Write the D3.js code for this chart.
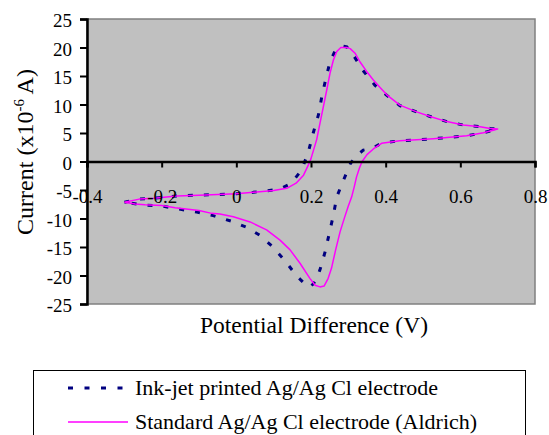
<!DOCTYPE html>
<html>
<head>
<meta charset="utf-8">
<script src="https://cdn.jsdelivr.net/npm/d3@7"></script>
<style>
  html, body { margin: 0; padding: 0; background: #ffffff; }
  svg { display: block; }
  text { font-family: "Liberation Serif", "Times New Roman", serif; fill: #000; }
</style>
</head>
<body>
<div id="chart"></div>
<script>
// ---- Data ----
const xTicks = [-0.4, -0.2, 0, 0.2, 0.4, 0.6, 0.8];
const xTickLabels = ["-0.4", "-0.2", "0", "0.2", "0.4", "0.6", "0.8"];
const yTicks = [-25, -20, -15, -10, -5, 0, 5, 10, 15, 20, 25];
const yTickLabels = ["-25", "-20", "-15", "-10", "-5", "0", "5", "10", "15", "20", "25"];

const seriesNames = ["Ink-jet printed Ag/Ag Cl electrode", "Standard Ag/Ag Cl electrode (Aldrich)"];

// Ink-jet printed electrode: potential (V) and current (x10^-6 A), cyclic loop
const inkV = [-0.30, -0.26, -0.22, -0.16, -0.10, -0.05, 0.00, 0.045, 0.10, 0.12, 0.139, 0.158, 0.175, 0.193, 0.206, 0.220, 0.229, 0.240, 0.251, 0.265, 0.282, 0.296, 0.313, 0.339, 0.371, 0.403, 0.438, 0.483, 0.519, 0.564, 0.608, 0.653, 0.680, 0.700,
  0.688, 0.662, 0.617, 0.572, 0.528, 0.483, 0.438, 0.389, 0.363, 0.340, 0.322, 0.306, 0.287, 0.269, 0.260, 0.249, 0.238, 0.224, 0.212, 0.200, 0.190, 0.162, 0.130, 0.095, 0.062, 0.028, -0.012, -0.062, -0.106, -0.155, -0.200, -0.249, -0.30];
const inkI = [-7.15, -6.6, -6.45, -6.05, -5.9, -5.8, -5.65, -5.4, -5.0, -4.7, -4.1, -2.9, -1.5, 1.7, 5.0, 8.2, 11.4, 14.6, 17.5, 19.5, 20.3, 20.1, 18.7, 16.0, 13.4, 11.6, 9.8, 8.7, 7.9, 7.0, 6.4, 6.1, 5.8, 5.7,
  5.5, 5.05, 4.5, 4.25, 4.0, 3.8, 3.65, 3.2, 2.3, 2.0, 1.0, -0.3, -3.3, -6.2, -9.4, -12.6, -15.8, -19.0, -21.0, -21.9, -21.9, -20.1, -17.4, -14.8, -12.9, -11.55, -10.5, -9.5, -8.86, -8.33, -7.8, -7.63, -7.15];

// Standard Ag/AgCl electrode (Aldrich)
const stdV = [-0.30, -0.26, -0.22, -0.16, -0.10, -0.05, 0.00, 0.045, 0.10, 0.135, 0.16, 0.18, 0.193, 0.200, 0.215, 0.224, 0.233, 0.242, 0.251, 0.260, 0.269, 0.280, 0.296, 0.305, 0.318, 0.331, 0.349, 0.367, 0.385, 0.403, 0.438, 0.483, 0.519, 0.564, 0.608, 0.653, 0.680, 0.700,
  0.688, 0.662, 0.617, 0.572, 0.528, 0.483, 0.438, 0.389, 0.367, 0.350, 0.337, 0.330, 0.322, 0.316, 0.309, 0.300, 0.290, 0.278, 0.266, 0.255, 0.246, 0.235, 0.224, 0.211, 0.197, 0.171, 0.144, 0.117, 0.081, 0.037, -0.008, -0.044, -0.066, -0.100, -0.164, -0.200, -0.245, -0.271, -0.30];
const stdI = [-7.15, -6.6, -6.45, -6.05, -5.9, -5.8, -5.65, -5.4, -5.1, -4.7, -3.8, -2.4, -0.6, 0.5, 3.8, 6.7, 9.6, 12.5, 15.5, 17.8, 19.3, 20.0, 20.0, 19.8, 19.0, 17.5, 15.8, 14.3, 13.0, 11.7, 9.9, 8.7, 7.9, 7.0, 6.4, 6.1, 5.8, 5.7,
  5.5, 5.05, 4.5, 4.25, 4.0, 3.8, 3.65, 3.2, 2.2, 1.2, 0.0, -1.1, -2.7, -4.4, -6.2, -7.8, -9.8, -12.3, -15.5, -18.7, -20.5, -21.85, -22.0, -21.7, -20.5, -17.9, -15.5, -13.8, -12.0, -10.6, -9.7, -9.2, -9.1, -8.6, -8.1, -7.7, -7.6, -7.45, -7.15];

// ---- Layout ----
const W = 549, H = 435;
const plot = { left: 87, right: 535, top: 19, bottom: 304 };

const svg = d3.select("#chart").append("svg").attr("width", W).attr("height", H);

const x = d3.scaleLinear().domain([-0.4, 0.8]).range([plot.left, plot.right]);
const y = d3.scaleLinear().domain([-25, 25]).range([plot.bottom, plot.top]);

// plot background
svg.append("rect")
  .attr("x", plot.left).attr("y", plot.top)
  .attr("width", plot.right - plot.left).attr("height", plot.bottom - plot.top)
  .attr("fill", "#c0c0c0").attr("stroke", "#808080").attr("stroke-width", 1.5);

// series
const line = d3.line().x(d => x(d[0])).y(d => y(d[1]));
const inkData = inkV.map((v, i) => [v, inkI[i]]);
const stdData = stdV.map((v, i) => [v, stdI[i]]);

svg.append("path").datum(inkData).attr("d", line)
  .attr("fill", "none").attr("stroke", "#000080").attr("stroke-width", 3)
  .attr("stroke-dasharray", "5,11");
svg.append("path").datum(stdData).attr("d", line)
  .attr("fill", "none").attr("stroke", "#ff00ff").attr("stroke-width", 1.5)
  .attr("stroke-linejoin", "round");

// y axis
const yAxis = d3.axisLeft(y).tickValues(yTicks).tickFormat((d, i) => yTickLabels[i]).tickSize(7).tickPadding(8);
const gy = svg.append("g").attr("transform", `translate(${plot.left},0)`).call(yAxis);
gy.select(".domain").attr("stroke", "#000").attr("stroke-width", 2.5);
gy.selectAll(".tick line").attr("stroke", "#000").attr("stroke-width", 2);
gy.selectAll(".tick text").attr("font-family", "Liberation Serif, Times New Roman, serif")
  .attr("font-size", 19).attr("dy", "0.42em");

// x axis at y = 0
const xAxis = d3.axisBottom(x).tickValues(xTicks).tickFormat((d, i) => xTickLabels[i]).tickSize(6).tickPadding(22);
const gx = svg.append("g").attr("transform", `translate(0,${y(0)})`).call(xAxis);
gx.select(".domain").attr("stroke", "#000").attr("stroke-width", 2.5);
gx.selectAll(".tick line").attr("stroke", "#000").attr("stroke-width", 2);
gx.selectAll(".tick text").attr("font-family", "Liberation Serif, Times New Roman, serif")
  .attr("font-size", 19);

// axis titles
svg.append("text")
  .attr("x", (plot.left + plot.right) / 2 + 3).attr("y", 333)
  .attr("text-anchor", "middle").attr("font-size", 23.5)
  .text("Potential Difference (V)");

const yt = svg.append("text")
  .attr("transform", "translate(33,152) rotate(-90)")
  .attr("text-anchor", "middle").attr("font-size", 24);
yt.append("tspan").text("Current (x10");
yt.append("tspan").attr("dy", -9).attr("font-size", 15).text("-6");
yt.append("tspan").attr("dy", 9).text(" A)");

// legend
const leg = svg.append("g");
leg.append("rect").attr("x", 33.5).attr("y", 370.5).attr("width", 492).attr("height", 80)
  .attr("fill", "#fff").attr("stroke", "#000").attr("stroke-width", 1);
const legendStyles = [
  { color: "#000080", width: 3, dash: "5,11.5", y: 388 },
  { color: "#ff00ff", width: 1.5, dash: null, y: 422 }
];
seriesNames.forEach((name, i) => {
  const s = legendStyles[i];
  leg.append("line").attr("x1", 68).attr("x2", 128).attr("y1", s.y).attr("y2", s.y)
    .attr("stroke", s.color).attr("stroke-width", s.width)
    .attr("stroke-dasharray", s.dash);
  leg.append("text").attr("x", 135).attr("y", s.y + 7).attr("font-size", 22).text(name);
});
</script>
</body>
</html>
